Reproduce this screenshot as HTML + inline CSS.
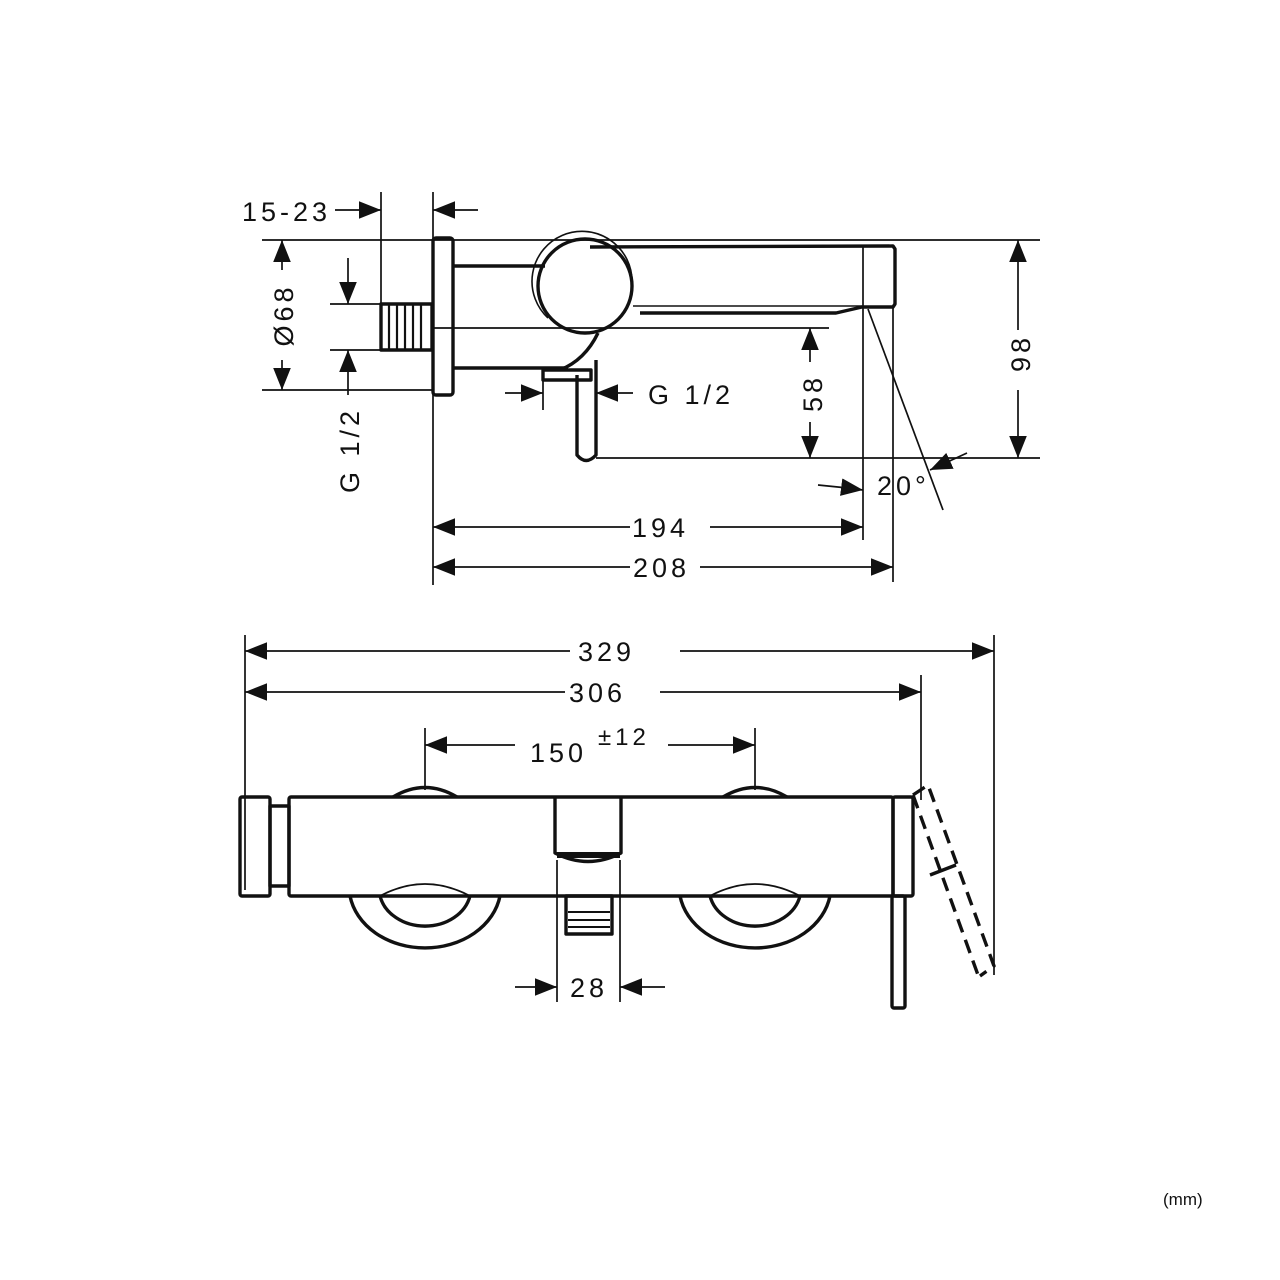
<!DOCTYPE html>
<html><head><meta charset="utf-8"><style>html,body{margin:0;padding:0;background:#fff}svg{display:block}text{font-family:"Liberation Sans",sans-serif;font-size:27px;fill:#111;letter-spacing:4px}</style></head>
<body>
<svg width="1280" height="1280" viewBox="0 0 1280 1280" xmlns="http://www.w3.org/2000/svg">
<defs>
<marker id="a" viewBox="0 0 10 10" refX="10" refY="5" markerWidth="22" markerHeight="22" markerUnits="userSpaceOnUse" orient="auto"><path d="M0,1 L10,5 L0,9 z" fill="#111"/></marker>
</defs>
<g stroke="#111" fill="none" stroke-width="1.7">
<line x1="381" y1="192" x2="381" y2="305"/>
<line x1="433" y1="192" x2="433" y2="585"/>
<line x1="262" y1="240" x2="1040" y2="240"/>
<line x1="262" y1="390" x2="432" y2="390"/>
<line x1="330" y1="304" x2="381" y2="304"/>
<line x1="330" y1="350" x2="381" y2="350"/>
<line x1="433" y1="328" x2="829" y2="328"/>
<line x1="596" y1="458" x2="1040" y2="458"/>
<line x1="863" y1="246" x2="863" y2="540"/>
<line x1="893" y1="306" x2="893" y2="582"/>
<line x1="868" y1="309" x2="943" y2="510"/>
<line x1="543" y1="380" x2="543" y2="410"/>
<line x1="335" y1="210" x2="381" y2="210" marker-end="url(#a)"/>
<line x1="478" y1="210" x2="433" y2="210" marker-end="url(#a)"/>
<line x1="282" y1="270" x2="282" y2="240" marker-end="url(#a)"/>
<line x1="282" y1="360" x2="282" y2="390" marker-end="url(#a)"/>
<line x1="348" y1="258" x2="348" y2="304" marker-end="url(#a)"/>
<line x1="348" y1="395" x2="348" y2="350" marker-end="url(#a)"/>
<line x1="505" y1="393" x2="543" y2="393" marker-end="url(#a)"/>
<line x1="633" y1="393" x2="596" y2="393" marker-end="url(#a)"/>
<line x1="810" y1="362" x2="810" y2="328" marker-end="url(#a)"/>
<line x1="810" y1="422" x2="810" y2="458" marker-end="url(#a)"/>
<line x1="1018" y1="330" x2="1018" y2="240" marker-end="url(#a)"/>
<line x1="1018" y1="390" x2="1018" y2="458" marker-end="url(#a)"/>
<line x1="630" y1="527" x2="433" y2="527" marker-end="url(#a)"/>
<line x1="710" y1="527" x2="863" y2="527" marker-end="url(#a)"/>
<line x1="630" y1="567" x2="433" y2="567" marker-end="url(#a)"/>
<line x1="700" y1="567" x2="893" y2="567" marker-end="url(#a)"/>
<path d="M818,485 Q840,487 863,490" marker-end="url(#a)"/>
<line x1="967" y1="453" x2="930" y2="470" marker-end="url(#a)"/>
<line x1="245" y1="635" x2="245" y2="890"/>
<line x1="994" y1="635" x2="994" y2="975"/>
<line x1="921" y1="675" x2="921" y2="800"/>
<line x1="425" y1="728" x2="425" y2="790"/>
<line x1="755" y1="728" x2="755" y2="790"/>
<line x1="557" y1="860" x2="557" y2="1002"/>
<line x1="620" y1="860" x2="620" y2="1002"/>
<line x1="570" y1="651" x2="245" y2="651" marker-end="url(#a)"/>
<line x1="680" y1="651" x2="994" y2="651" marker-end="url(#a)"/>
<line x1="565" y1="692" x2="245" y2="692" marker-end="url(#a)"/>
<line x1="660" y1="692" x2="921" y2="692" marker-end="url(#a)"/>
<line x1="515" y1="745" x2="425" y2="745" marker-end="url(#a)"/>
<line x1="668" y1="745" x2="755" y2="745" marker-end="url(#a)"/>
<line x1="515" y1="987" x2="557" y2="987" marker-end="url(#a)"/>
<line x1="665" y1="987" x2="620" y2="987" marker-end="url(#a)"/>
</g>
<g stroke="#111" fill="none" stroke-width="3.4" stroke-linejoin="round">
<rect x="433" y="238" width="20" height="157" rx="3"/>
<rect x="381" y="304" width="51" height="46"/>
<g stroke-width="2.2"><line x1="389" y1="305" x2="389" y2="349"/><line x1="397" y1="305" x2="397" y2="349"/><line x1="405" y1="305" x2="405" y2="349"/><line x1="413" y1="305" x2="413" y2="349"/><line x1="421" y1="305" x2="421" y2="349"/></g>
<line x1="453" y1="266" x2="545" y2="266"/>
<line x1="453" y1="368" x2="568" y2="368"/>
<circle cx="585" cy="286" r="47"/>
<path d="M548,318 A50,50 0 1 1 632,282" stroke-width="1.6"/>
<path d="M590,247 L893,246 L895,249 L895,304 L893,307 L862,307 L836,313 L640,313"/>
<line x1="633" y1="306" x2="862" y2="306" stroke-width="1.6"/>
<path d="M560,370 Q585,360 598,333"/>
<rect x="543" y="370" width="48" height="10"/>
<path d="M577,375 L577,455 Q586,466 596,455 L596,360"/>
<rect x="240" y="797" width="30" height="99" rx="2"/>
<rect x="270" y="806" width="19" height="80"/>
<rect x="289" y="797" width="604" height="99" rx="2"/>
<rect x="893" y="797" width="20" height="99" rx="2"/>
<rect x="892" y="896" width="13" height="112" rx="2"/>
<path d="M555,797 L555,853 Q588,870 621,853 L621,797"/>
<path d="M557,855 L620,855" stroke-width="6"/>
<rect x="566" y="896" width="46" height="38"/>
<g stroke-width="2"><line x1="568" y1="912" x2="610" y2="912"/><line x1="568" y1="920" x2="610" y2="920"/><line x1="568" y1="927" x2="610" y2="927"/></g>
<path d="M393,797 Q425,778 457,797"/>
<path d="M723,797 Q755,778 787,797"/>
<path d="M350,896 A76,62 0 0 0 500,896"/>
<path d="M380,896 A46,38 0 0 0 470,896"/>
<path d="M380,896 Q425,872 470,896" stroke-width="1.8"/>
<path d="M680,896 A76,62 0 0 0 830,896"/>
<path d="M710,896 A46,38 0 0 0 800,896"/>
<path d="M710,896 Q755,872 800,896" stroke-width="1.8"/>
<g stroke-dasharray="14,8">
<path d="M913,795 L978,975"/>
<path d="M913,795 L928,785 L994,966 L980,976"/>
</g>
<line x1="930" y1="875" x2="956" y2="865"/>
</g>
<text x="242" y="221">15-23</text>
<text x="648" y="404">G 1/2</text>
<text x="632" y="537">194</text>
<text x="633" y="577">208</text>
<text x="877" y="495">20°</text>
<text transform="translate(293,315) rotate(-90)" text-anchor="middle">Ø68</text>
<text transform="translate(359,450) rotate(-90)" text-anchor="middle">G 1/2</text>
<text transform="translate(822,393) rotate(-90)" text-anchor="middle">58</text>
<text transform="translate(1030,353) rotate(-90)" text-anchor="middle">98</text>
<text x="578" y="661">329</text>
<text x="569" y="702">306</text>
<text x="530" y="762">150</text>
<text x="598" y="745" style="font-size:24px">±12</text>
<text x="570" y="997">28</text>
<text x="1163" y="1205" style="font-size:17px;letter-spacing:0">(mm)</text>
</svg>
</body></html>
